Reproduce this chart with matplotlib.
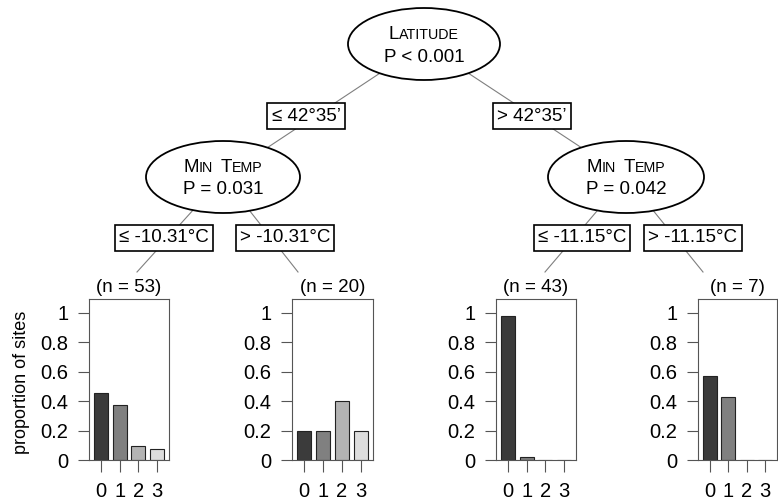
import matplotlib
matplotlib.use("Agg")
import matplotlib.pyplot as plt
from matplotlib.patches import Ellipse
from matplotlib.offsetbox import TextArea, HPacker, AnnotationBbox

plt.rcParams['font.family'] = ['Liberation Sans', 'DejaVu Sans']

classes = ["0", "1", "2", "3"]
leaf_n = [53, 20, 43, 7]
leaf_counts = [
    [24, 20, 5, 4],
    [4, 4, 8, 4],
    [42, 1, 0, 0],
    [4, 3, 0, 0],
]
node_vars = [[("L", "ATITUDE")], [("M", "IN"), ("T", "EMP")], [("M", "IN"), ("T", "EMP")]]
node_pvals = ["P < 0.001", "P = 0.031", "P = 0.042"]
edge_labels = ["\u2264 42°35\u2019", "> 42°35\u2019",
               "\u2264 -10.31°C", "> -10.31°C",
               "\u2264 -11.15°C", "> -11.15°C"]
yticks = [0, 0.2, 0.4, 0.6, 0.8, 1]
ytick_labels = ["0", "0.2", "0.4", "0.6", "0.8", "1"]
bar_colors = ["#3b3b3b", "#808080", "#b3b3b3", "#dddddd"]

# layout in pixels
W, H = 778, 501
node_xy = [(424, 44), (223, 177), (626, 177)]
node_w = [152, 154, 156]
node_h = 72
edge_xy = [(306, 116), (532, 116), (164, 238), (285, 238), (582, 238), (693, 238)]
edges = [((424, 44), (223, 177)), ((424, 44), (626, 177)),
         ((223, 177), (137, 272)), ((223, 177), (298, 272)),
         ((626, 177), (545, 272)), ((626, 177), (703, 272))]
panels = [(89, 169), (292, 373), (496, 576), (698, 777)]
ptop, pbot = 299, 460
fs = 13.5
tfs = 14.5

fig = plt.figure(figsize=(W / 100, H / 100), dpi=100)
ax = fig.add_axes([0, 0, 1, 1])
ax.set_xlim(0, W)
ax.set_ylim(H, 0)
ax.axis('off')

for (a, b) in edges:
    ax.plot([a[0], b[0]], [a[1], b[1]], color="#7f7f7f", lw=0.8, zorder=1)


def smallcaps(words, x, y):
    parts = []
    for big, small in words:
        parts.append(HPacker(children=[TextArea(big, textprops=dict(size=fs)),
                                       TextArea(small, textprops=dict(size=fs * 0.76))],
                             align="baseline", pad=0, sep=0))
    box = HPacker(children=parts, align="baseline", pad=0, sep=5)
    ab = AnnotationBbox(box, (x, y), xycoords='data', frameon=False,
                        box_alignment=(0.5, 0.5), pad=0, zorder=4)
    ax.add_artist(ab)


for i, (x, y) in enumerate(node_xy):
    ax.add_patch(Ellipse((x, y), node_w[i], node_h, fc="white", ec="black", lw=1.3, zorder=3))
    smallcaps(node_vars[i], x, y - 10)
    ax.text(x, y + 13, node_pvals[i], ha="center", va="center", size=fs, zorder=4)

for (x, y), lab in zip(edge_xy, edge_labels):
    ax.text(x, y, lab, ha="center", va="center", size=fs, zorder=4,
            bbox=dict(boxstyle="square,pad=0.22", fc="white", ec="black", lw=1.2))

ax.text(22, 382, "proportion of sites", rotation=90, ha="center", va="center", size=13)

for k, (L, R) in enumerate(panels):
    ax.text((L + R) / 2, 288, "(n = %d)" % leaf_n[k], ha="center", va="center", size=fs)
    pax = fig.add_axes([L / W, (H - pbot) / H, (R - L) / W, (pbot - ptop) / H])
    props = [c / leaf_n[k] for c in leaf_counts[k]]
    pax.bar(range(len(classes)), props, width=0.75, color=bar_colors,
            edgecolor="#222222", linewidth=0.8)
    pax.set_xlim(-0.65, 3.65)
    pax.set_ylim(0, 1.095)
    pax.set_yticks(yticks)
    pax.set_yticklabels(ytick_labels)
    pax.set_xticks(range(len(classes)))
    pax.set_xticklabels(classes)
    for s in pax.spines.values():
        s.set_color("#555555")
        s.set_linewidth(0.8)
    pax.tick_params(axis="y", length=8, width=0.8, color="#555555", labelsize=tfs, pad=7)
    pax.tick_params(axis="x", length=8.5, width=0.8, color="#555555", labelsize=tfs, pad=7)

fig.savefig("out.png", dpi=100)
